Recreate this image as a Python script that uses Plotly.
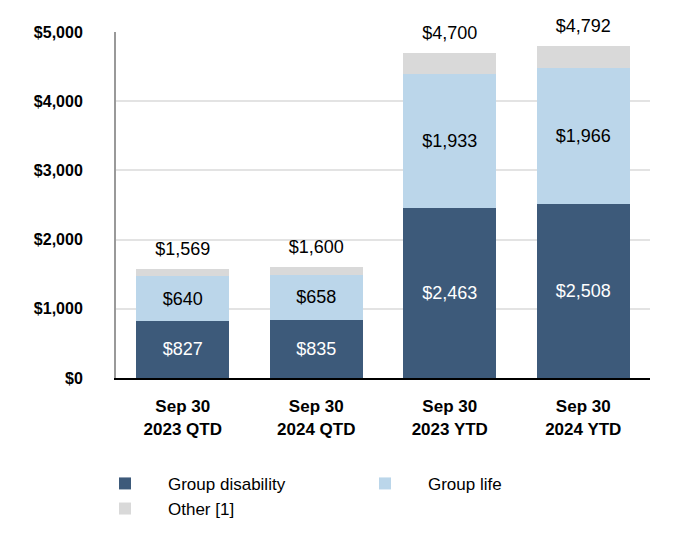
import plotly.graph_objects as go

categories = ["Sep 30<br>2023 QTD", "Sep 30<br>2024 QTD", "Sep 30<br>2023 YTD", "Sep 30<br>2024 YTD"]
group_disability = [827, 835, 2463, 2508]
group_life = [640, 658, 1933, 1966]
other = [102, 107, 304, 318]
totals = [1569, 1600, 4700, 4792]
tick_vals = [0, 1000, 2000, 3000, 4000, 5000]
tick_text = ["$0", "$1,000", "$2,000", "$3,000", "$4,000", "$5,000"]

FONT = "Liberation Sans, Arial, sans-serif"
fig = go.Figure()
fig.add_trace(go.Bar(
    x=categories, y=group_disability, name="Group disability",
    marker=dict(color="#3D5A7A", line=dict(width=0)),
    text=[f"${v:,}" for v in group_disability], textposition="inside",
    insidetextanchor="middle", textangle=0,
    textfont=dict(color="white", size=18, family=FONT),
))
fig.add_trace(go.Bar(
    x=categories, y=group_life, name="Group life",
    marker=dict(color="#BBD6EA", line=dict(width=0)),
    text=[f"${v:,}" for v in group_life], textposition="inside",
    insidetextanchor="middle", textangle=0,
    textfont=dict(color="black", size=18, family=FONT),
))
fig.add_trace(go.Bar(
    x=categories, y=other, name="Other [1]",
    marker=dict(color="#D9D9D9", line=dict(width=0)),
    textposition="none",
))
fig.add_trace(go.Scatter(
    x=categories, y=totals, mode="markers+text",
    text=[f"${v:,}" for v in totals], textposition="top center",
    marker=dict(size=14, opacity=0),
    textfont=dict(color="black", size=18, family=FONT),
    showlegend=False, cliponaxis=False, hoverinfo="skip",
))

fig.update_layout(
    width=680, height=556,
    barmode="stack", bargap=0.3,
    plot_bgcolor="white", paper_bgcolor="white",
    margin=dict(l=108, r=38, t=24, b=186, autoexpand=False),
    font=dict(family=FONT, size=16, color="black"),
    uniformtext=dict(mode="show", minsize=16),
    legend=dict(
        orientation="h",
        x=-0.0637, xanchor="left", y=-0.254, yanchor="top",
        itemwidth=76, entrywidth=169, entrywidthmode="pixels",
        font=dict(size=17, family=FONT), traceorder="normal",
        tracegroupgap=0, itemclick=False,
    ),
)
fig.update_xaxes(
    showline=True, linecolor="black", linewidth=2,
    tickfont=dict(size=17, family=FONT, color="black", weight="bold"),
    ticks="outside", ticklen=12, tickcolor="rgba(0,0,0,0)",
    showgrid=False, automargin=False,
)
fig.update_yaxes(
    range=[0, 5000], tickvals=tick_vals, ticktext=tick_text,
    showgrid=True, gridcolor="#E3E3E3", gridwidth=2,
    showline=True, linecolor="#999999", linewidth=2,
    tickfont=dict(size=16, family=FONT, color="black", weight="bold"),
    ticks="outside", ticklen=28, tickcolor="rgba(0,0,0,0)",
    zeroline=False, automargin=False,
)
fig.write_html("out.html")
